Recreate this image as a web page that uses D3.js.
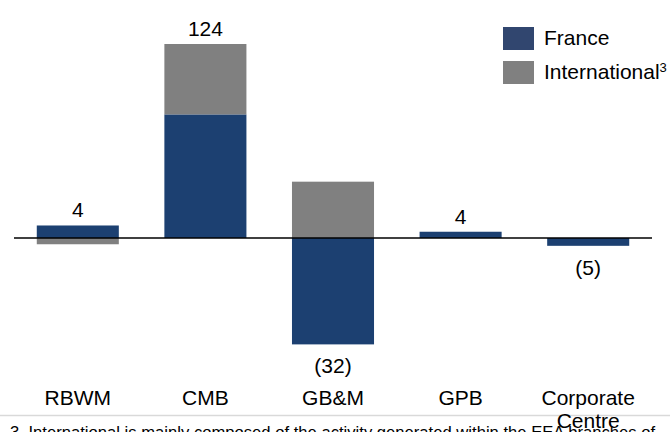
<!DOCTYPE html>
<html>
<head>
<meta charset="utf-8">
<script src="https://cdn.jsdelivr.net/npm/d3@7"></script>
<style>
  html, body { margin: 0; padding: 0; background: #fff; }
  svg { display: block; font-family: "Liberation Sans", Arial, sans-serif; }
</style>
</head>
<body>
<svg id="chart" width="670" height="432"></svg>
<script>
// ---- data ----
const categories = ["RBWM", "CMB", "GB&M", "GPB", "Corporate Centre"];
const franceValues = [8, 79, -68, 4, -5];
const internationalValues = [-4, 45, 36, 0, 0];
const totalLabels = ["4", "124", "(32)", "4", "(5)"];
const seriesNames = ["France", "International"];
const footnote = "3. International is mainly composed of the activity generated within the EEA branches of";

// ---- layout ----
const W = 670, H = 432;
const svg = d3.select("#chart");
const colors = { France: "#1c4071", International: "#808080" };
const legendColors = { France: "#31466f", International: "#808080" };
const FS = 21;

const x = d3.scaleBand().domain(categories).range([14, 652])
  .paddingInner(0.357).paddingOuter(0.1785);
const y = d3.scaleLinear().domain([0, 124]).range([238, 44]);

// stack positives up and negatives down
const rows = categories.map((c, i) => ({ cat: c, France: franceValues[i], International: internationalValues[i], label: totalLabels[i] }));
const segs = [];
rows.forEach(r => {
  let pos = 0, neg = 0;
  seriesNames.forEach(s => {
    const v = r[s];
    if (v === 0) return;
    if (v > 0) { segs.push({ cat: r.cat, s, y0: pos, y1: pos + v }); pos += v; }
    else { segs.push({ cat: r.cat, s, y0: neg + v, y1: neg }); neg += v; }
  });
  r.top = pos; r.bottom = neg; r.total = r.France + r.International;
});

svg.append("g").selectAll("rect").data(segs).join("rect")
  .attr("x", d => x(d.cat))
  .attr("width", x.bandwidth())
  .attr("y", d => y(d.y1))
  .attr("height", d => y(d.y0) - y(d.y1))
  .attr("fill", d => colors[d.s]);

// zero axis line
svg.append("line")
  .attr("x1", x.range()[0]).attr("x2", x.range()[1])
  .attr("y1", y(0)).attr("y2", y(0))
  .attr("stroke", "#000").attr("stroke-width", 1.5);

// value labels
svg.append("g").selectAll("text").data(rows).join("text")
  .attr("x", d => x(d.cat) + x.bandwidth() / 2)
  .attr("y", d => d.total >= 0 ? y(d.top) - 8 : y(d.bottom) + 29)
  .attr("text-anchor", "middle")
  .attr("font-size", FS)
  .attr("fill", "#000")
  .text(d => d.label);

// footnote separator and text
svg.append("line").attr("x1", 0).attr("x2", W).attr("y1", 415.5).attr("y2", 415.5)
  .attr("stroke", "#d9d9d9").attr("stroke-width", 1.5);
svg.append("text").attr("x", 10).attr("y", 438).attr("font-size", 16)
  .attr("textLength", 645).attr("lengthAdjust", "spacingAndGlyphs")
  .attr("fill", "#000").text(footnote);

// category labels (x axis, wrapped)
const xAxis = svg.append("g");
xAxis.selectAll("text").data(categories).join("text")
  .attr("x", d => x(d) + x.bandwidth() / 2)
  .attr("y", 405)
  .attr("text-anchor", "middle")
  .attr("font-size", FS)
  .attr("fill", "#000")
  .each(function (d) {
    const words = d === "Corporate Centre" ? ["Corporate", "Centre"] : [d];
    const t = d3.select(this);
    words.forEach((w, i) => {
      t.append("tspan").attr("x", x(d) + x.bandwidth() / 2).attr("dy", i === 0 ? 0 : 23).text(w);
    });
  });

// legend
const legend = svg.append("g").attr("transform", "translate(503,27)");
seriesNames.forEach((s, i) => {
  const g = legend.append("g").attr("transform", `translate(0,${i * 34})`);
  g.append("rect").attr("width", 31).attr("height", 23).attr("fill", legendColors[s]);
  const t = g.append("text").attr("x", 41).attr("y", 18).attr("font-size", FS).attr("fill", "#000").text(s);
  if (s === "International") {
    t.append("tspan").attr("font-size", 13).attr("dy", -7).text("3");
  }
});
</script>
</body>
</html>
